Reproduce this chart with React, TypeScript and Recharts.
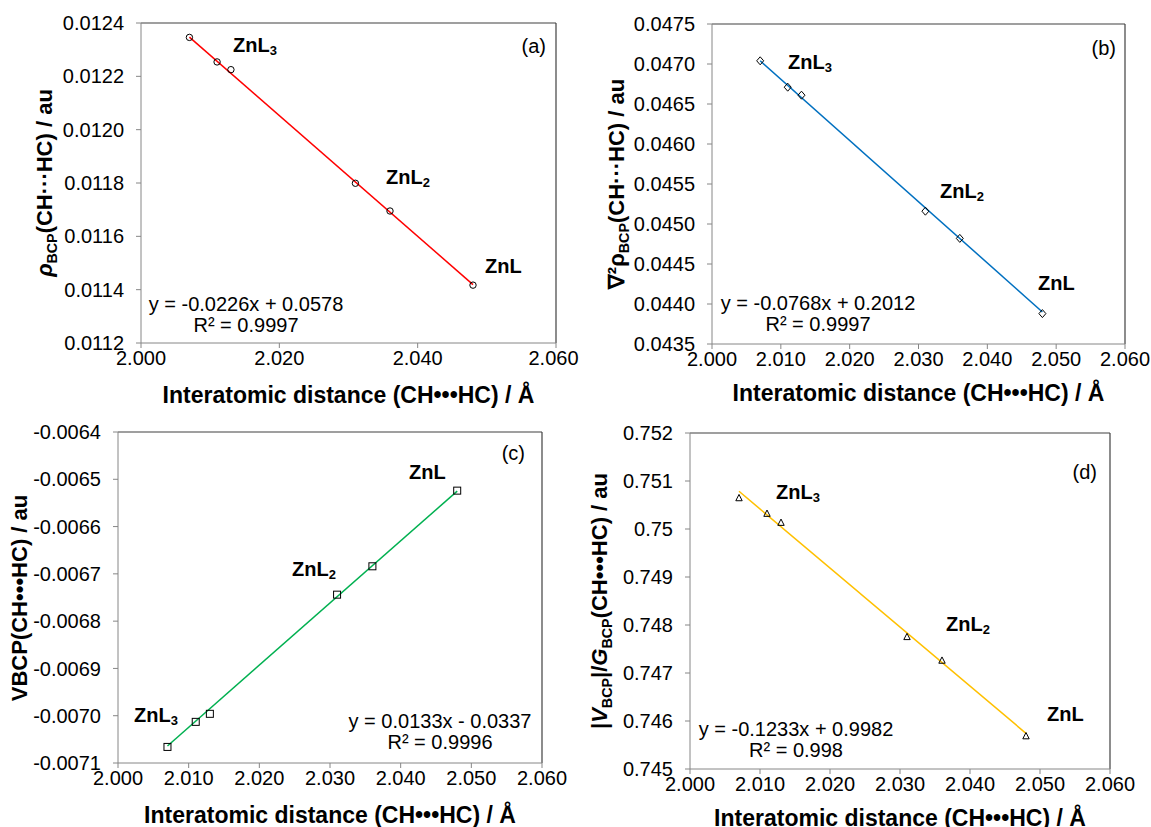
import React from "react";
import {
  ScatterChart,
  Scatter,
  XAxis,
  YAxis,
  ReferenceLine,
} from "recharts";

const FONT = '"Liberation Sans", Arial, sans-serif';

// interatomic distance (CH•••HC) / Å, same for all four panels
const distance = [2.007, 2.011, 2.013, 2.031, 2.036, 2.048];
const fitX = [2.007, 2.048];

// (a) rho at BCP
const rhoBcp = [0.012346, 0.012254, 0.012225, 0.011799, 0.011695, 0.011417];
const rhoFit = [0.012347, 0.011419];
const rhoTicks = [0.0112, 0.0114, 0.0116, 0.0118, 0.012, 0.0122, 0.0124];

// (b) laplacian of rho
const lapRho = [0.04704, 0.04671, 0.04661, 0.04516, 0.04482, 0.04388];
const lapFit = [0.04704, 0.0439];
const lapTicks = [0.0435, 0.044, 0.0445, 0.045, 0.0455, 0.046, 0.0465, 0.047, 0.0475];

// (c) V at BCP
const vBcp = [-0.007066, -0.007013, -0.006996, -0.006744, -0.006684, -0.006524];
const vFit = [-0.007064, -0.006525];
const vTicks = [-0.0071, -0.007, -0.0069, -0.0068, -0.0067, -0.0066, -0.0065, -0.0064];

// (d) |V|/G
const vgRatio = [0.750647, 0.750322, 0.750134, 0.747754, 0.747262, 0.745687];
const vgFit = [0.750786, 0.745743];
const vgTicks = [0.745, 0.746, 0.747, 0.748, 0.749, 0.75, 0.751, 0.752];

const xTicksWide = [2.0, 2.02, 2.04, 2.06];
const xTicksFine = [2.0, 2.01, 2.02, 2.03, 2.04, 2.05, 2.06];

const toPoints = (xs: number[], ys: number[]) => xs.map((x, i) => ({ x, y: ys[i] }));

type Shape = "circle" | "diamond" | "square" | "triangle";

const marker = (kind: Shape) => (props: any) => {
  const { cx, cy } = props;
  const common = { fill: "none", stroke: "#000", strokeWidth: 1 };
  if (kind === "circle") return <circle cx={cx} cy={cy} r={3.2} {...common} />;
  if (kind === "square") return <rect x={cx - 3.5} y={cy - 3.5} width={7} height={7} {...common} />;
  if (kind === "diamond")
    return <polygon points={`${cx},${cy - 4} ${cx + 3.5},${cy} ${cx},${cy + 4} ${cx - 3.5},${cy}`} {...common} />;
  return <polygon points={`${cx},${cy - 3.5} ${cx + 3.2},${cy + 2.8} ${cx - 3.2},${cy + 2.8}`} {...common} />;
};

type Note = { text: React.ReactNode; x: number; y: number; align?: "left" | "right" | "center"; bold?: boolean };

type PanelProps = {
  left: number;
  top: number;
  plot: { l: number; t: number; r: number; b: number };
  yValues: number[];
  fitValues: number[];
  yTicks: number[];
  xTicks: number[];
  yFmt: (v: number) => string;
  color: string;
  shape: Shape;
  yTitle: React.ReactNode;
  yTitleX: number;
  xTitleY: number;
  notes: Note[];
};

const W = 576;
const H = 417;

function Panel(p: PanelProps) {
  const xh = 32;
  const margin = { top: p.plot.t, right: W - p.plot.r, left: 0, bottom: H - p.plot.b - xh };
  const yMin = p.yTicks[0];
  const yMax = p.yTicks[p.yTicks.length - 1];
  const tick = { fontSize: 20, fill: "#000", fontFamily: FONT };
  return (
    <div style={{ position: "absolute", left: p.left, top: p.top, width: W, height: H }}>
      <ScatterChart width={W} height={H} margin={margin}>
        <XAxis
          type="number"
          dataKey="x"
          domain={[2.0, 2.06]}
          ticks={p.xTicks}
          tickFormatter={(v: number) => v.toFixed(3)}
          height={xh}
          tick={tick}
          tickSize={5}
          tickMargin={3}
          stroke="#868686"
          allowDataOverflow
        />
        <YAxis
          type="number"
          dataKey="y"
          domain={[yMin, yMax]}
          ticks={p.yTicks}
          tickFormatter={p.yFmt}
          width={p.plot.l}
          tick={tick}
          tickSize={5}
          tickMargin={12}
          stroke="#868686"
          allowDataOverflow
        />
        <ReferenceLine y={yMax} stroke="#404040" strokeWidth={1.2} />
        <ReferenceLine x={2.06} stroke="#404040" strokeWidth={1.2} />
        <Scatter
          data={toPoints(fitX, p.fitValues)}
          line={{ stroke: p.color, strokeWidth: 1.5 }}
          shape={() => <g />}
          isAnimationActive={false}
        />
        <Scatter data={toPoints(distance, p.yValues)} shape={marker(p.shape)} isAnimationActive={false} />
      </ScatterChart>
      <div
        style={{
          position: "absolute",
          left: p.yTitleX,
          top: (p.plot.t + p.plot.b) / 2,
          transform: "translate(-50%, -50%) rotate(-90deg)",
          whiteSpace: "nowrap",
          fontFamily: FONT,
          fontWeight: "bold",
          fontSize: 22,
        }}
      >
        {p.yTitle}
      </div>
      <div
        style={{
          position: "absolute",
          left: (p.plot.l + p.plot.r) / 2,
          top: p.xTitleY,
          transform: "translate(-50%, -50%)",
          whiteSpace: "nowrap",
          fontFamily: FONT,
          fontWeight: "bold",
          fontSize: 23,
        }}
      >
        Interatomic distance (CH•••HC) / Å
      </div>
      {p.notes.map((n, i) => (
        <div
          key={i}
          style={{
            position: "absolute",
            left: n.x,
            top: n.y,
            transform:
              n.align === "right"
                ? "translate(-100%, -50%)"
                : n.align === "center"
                ? "translate(-50%, -50%)"
                : "translateY(-50%)",
            whiteSpace: "nowrap",
            fontFamily: FONT,
            fontWeight: n.bold ? "bold" : "normal",
            fontSize: 20,
            lineHeight: "21px",
            textAlign: "center",
          }}
        >
          {n.text}
        </div>
      ))}
    </div>
  );
}

const sub = (t: string) => (
  <span style={{ fontSize: "0.65em", verticalAlign: "-0.3em" }}>{t}</span>
);

const zn = (n?: string) => (
  <span>
    ZnL{n ? sub(n) : null}
  </span>
);

const eq = (a: string, b: string) => (
  <span>
    {a}
    <br />
    {b}
  </span>
);

const f4 = (v: number) => v.toFixed(4);
const fGeneral = (v: number) => String(Number(v.toFixed(3)));

export default function App() {
  return (
    <div
      style={{
        position: "absolute",
        left: 0,
        top: 0,
        width: 1151,
        height: 827,
        overflow: "hidden",
        background: "#fff",
      }}
    >
      <style>{`.recharts-surface { overflow: visible; } .recharts-wrapper { overflow: visible; }`}</style>
      <Panel
        left={0}
        top={0}
        plot={{ l: 141, t: 23, r: 556, b: 343 }}
        yValues={rhoBcp}
        fitValues={rhoFit}
        yTicks={rhoTicks}
        xTicks={xTicksWide}
        yFmt={f4}
        color="#FF0000"
        shape="circle"
        yTitle={
          <span>
            <i>ρ</i>
            {sub("BCP")}(CH···HC) / au
          </span>
        }
        yTitleX={46}
        xTitleY={395}
        notes={[
          { text: zn("3"), x: 233, y: 48, bold: true },
          { text: zn("2"), x: 386, y: 180, bold: true },
          { text: zn(), x: 485, y: 266, bold: true },
          { text: "(a)", x: 546, y: 46, align: "right" },
          { text: eq("y = -0.0226x + 0.0578", "R² = 0.9997"), x: 246, y: 315, align: "center" },
        ]}
      />
      <Panel
        left={575}
        top={0}
        plot={{ l: 137, t: 24, r: 550, b: 344 }}
        yValues={lapRho}
        fitValues={lapFit}
        yTicks={lapTicks}
        xTicks={xTicksFine}
        yFmt={f4}
        color="#0070C0"
        shape="diamond"
        yTitle={
          <span>
            ∇²ρ{sub("BCP")}(CH···HC) / au
          </span>
        }
        yTitleX={43}
        xTitleY={393}
        notes={[
          { text: zn("3"), x: 213, y: 65, bold: true },
          { text: zn("2"), x: 365, y: 194, bold: true },
          { text: zn(), x: 463, y: 283, bold: true },
          { text: "(b)", x: 541, y: 48, align: "right" },
          { text: eq("y = -0.0768x + 0.2012", "R² = 0.9997"), x: 243, y: 314, align: "center" },
        ]}
      />
      <Panel
        left={0}
        top={410}
        plot={{ l: 118, t: 22, r: 542, b: 353 }}
        yValues={vBcp}
        fitValues={vFit}
        yTicks={vTicks}
        xTicks={xTicksFine}
        yFmt={f4}
        color="#00B050"
        shape="square"
        yTitle={<span>VBCP(CH•••HC) / au</span>}
        yTitleX={20}
        xTitleY={405}
        notes={[
          { text: zn("3"), x: 134, y: 308, bold: true },
          { text: zn("2"), x: 292, y: 162, bold: true },
          { text: zn(), x: 409, y: 62, bold: true },
          { text: "(c)", x: 525, y: 43, align: "right" },
          { text: eq("y = 0.0133x - 0.0337", "R² = 0.9996"), x: 440, y: 322, align: "center" },
        ]}
      />
      <Panel
        left={575}
        top={410}
        plot={{ l: 115, t: 23, r: 535, b: 359 }}
        yValues={vgRatio}
        fitValues={vgFit}
        yTicks={vgTicks}
        xTicks={xTicksFine}
        yFmt={fGeneral}
        color="#FFC000"
        shape="triangle"
        yTitle={
          <span>
            |<i>V</i>
            {sub("BCP")}|/<i>G</i>
            {sub("BCP")}(CH•••HC) / au
          </span>
        }
        yTitleX={26}
        xTitleY={408}
        notes={[
          { text: zn("3"), x: 201, y: 85, bold: true },
          { text: zn("2"), x: 371, y: 217, bold: true },
          { text: zn(), x: 472, y: 304, bold: true },
          { text: "(d)", x: 522, y: 62, align: "right" },
          { text: eq("y = -0.1233x + 0.9982", "R² = 0.998"), x: 221, y: 330, align: "center" },
        ]}
      />
    </div>
  );
}
